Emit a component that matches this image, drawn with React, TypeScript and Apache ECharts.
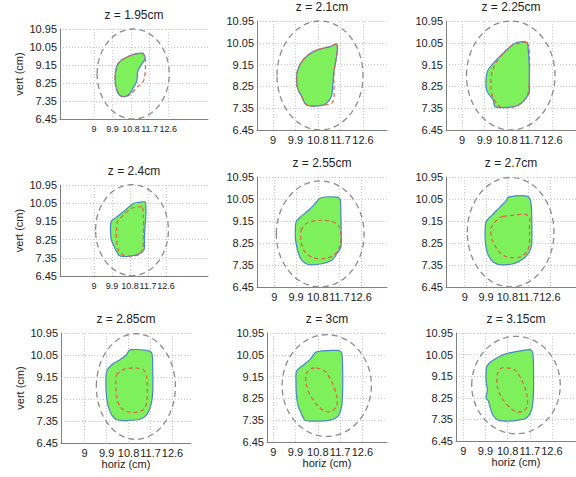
import React, { useEffect, useRef } from "react";
import * as echarts from "echarts";

const titles = ["z = 1.95cm", "z = 2.1cm", "z = 2.25cm", "z = 2.4cm", "z = 2.55cm", "z = 2.7cm", "z = 2.85cm", "z = 3cm", "z = 3.15cm"];
const xTicks = [9, 9.9, 10.8, 11.7, 12.6];
const yTicks = [6.45, 7.35, 8.25, 9.15, 10.05, 10.95];
const xRanges = [[7.35, 14.53], [8.36, 13.56], [8.36, 13.56], [7.3, 14.7], [8.28, 13.67], [8.21, 13.7], [8.03, 13.36], [8.75, 13.59], [8.7, 13.58]];
const yRange = [6.45, 10.95];

// ellipse: [cx, cy, rx, ry]
const ellipses = [
  [10.9, 8.7, 1.75, 2.25], [10.88, 8.7, 1.72, 2.25], [10.95, 8.7, 1.77, 2.25],
  [10.9, 8.72, 1.82, 2.25], [10.9, 8.62, 1.82, 2.17], [10.94, 8.69, 1.83, 2.24],
  [11.1, 8.76, 1.62, 2.16], [11.16, 8.78, 1.8, 2.1], [11.14, 8.78, 1.8, 2.03],
];

const tumor1 = [[10.34, 9.4], [10.83, 9.65], [11.36, 9.73], [11.48, 9.48], [11.23, 9.07], [11.12, 8.82], [11.07, 8.32], [10.91, 8.03], [10.75, 7.73], [10.5, 7.57], [10.23, 7.65], [10.07, 8.03], [10.02, 8.48], [10.07, 8.98], [10.18, 9.23]];
const contour1 = [[10.34, 9.4], [10.83, 9.65], [11.36, 9.73], [11.49, 9.4], [11.49, 8.9], [11.43, 8.43], [11.3, 8.2], [11.07, 8.03], [10.8, 7.7], [10.5, 7.57], [10.23, 7.65], [10.07, 8.03], [10.02, 8.48], [10.07, 8.98], [10.18, 9.23]];

const tumor2 = [[11.55, 9.99], [11.28, 9.89], [10.75, 9.75], [10.41, 9.55], [10.15, 9.27], [9.97, 8.86], [9.95, 8.38], [10.01, 8.1], [10.15, 7.82], [10.28, 7.55], [10.48, 7.44], [11.01, 7.48], [11.21, 7.62], [11.35, 7.89], [11.39, 8.31], [11.44, 8.86], [11.52, 9.34], [11.57, 9.75]];
const contour2 = [[11.55, 9.99], [11.28, 9.89], [10.75, 9.75], [10.41, 9.55], [10.15, 9.27], [9.97, 8.86], [9.95, 8.38], [10.01, 8.1], [10.15, 7.82], [10.28, 7.55], [10.48, 7.44], [11.01, 7.48], [11.35, 7.55], [11.44, 7.82], [11.44, 8.24], [11.44, 8.86], [11.52, 9.34], [11.57, 9.75]];

const tumor3 = [[11.59, 10.07], [11.12, 10.03], [10.65, 9.62], [10.25, 9.2], [10.01, 8.86], [9.96, 8.24], [10.05, 7.96], [10.25, 7.69], [10.32, 7.41], [10.72, 7.38], [11.19, 7.44], [11.45, 7.62], [11.59, 7.82], [11.69, 7.96], [11.69, 8.38], [11.69, 9.06], [11.65, 9.75]];
const contour3 = [[11.59, 10.06], [11.05, 9.96], [10.65, 9.62], [10.39, 9.27], [10.2, 8.86], [10.16, 8.24], [10.23, 7.82], [10.39, 7.55], [10.59, 7.38], [11.19, 7.44], [11.59, 7.82], [11.69, 8.38], [11.69, 9.75]];

const tumor4 = [[11.55, 10.12], [11.22, 10.09], [10.97, 10.04], [10.47, 9.63], [10.05, 9.3], [9.85, 9.13], [9.85, 8.31], [9.97, 7.98], [10.13, 7.65], [10.3, 7.44], [10.88, 7.44], [11.3, 7.57], [11.5, 7.73], [11.52, 8.23], [11.55, 8.89], [11.6, 9.55], [11.58, 10.04]];
const contour4 = [[11.38, 9.88], [10.88, 9.8], [10.47, 9.46], [10.17, 9.13], [10.13, 8.8], [10.13, 8.23], [10.22, 7.73], [10.47, 7.48], [10.97, 7.44], [11.3, 7.53], [11.43, 7.82], [11.47, 8.39], [11.47, 9.38], [11.43, 9.85]];

const tumor5 = [[10.9, 10.09], [11.59, 10.13], [11.73, 10.02], [11.76, 9.31], [11.77, 8.63], [11.76, 8.08], [11.59, 7.81], [11.38, 7.54], [10.97, 7.4], [10.41, 7.37], [10.14, 7.54], [10.0, 7.81], [9.93, 8.08], [9.87, 8.49], [9.9, 9.11], [10.07, 9.31], [10.41, 9.58], [10.69, 9.86]];
const contour5 = [[10.11, 8.77], [10.34, 9.06], [10.83, 9.17], [11.31, 9.15], [11.66, 8.97], [11.76, 8.56], [11.7, 8.08], [11.45, 7.74], [11.03, 7.61], [10.62, 7.65], [10.27, 7.88], [10.11, 8.29]];

const tumor6 = [[10.84, 10.13], [11.62, 10.17], [11.78, 9.99], [11.83, 9.31], [11.83, 8.22], [11.73, 7.88], [11.47, 7.61], [11.05, 7.4], [10.49, 7.36], [10.21, 7.47], [10.0, 7.74], [9.9, 8.08], [9.86, 8.49], [9.9, 9.11], [10.14, 9.38], [10.49, 9.72], [10.77, 10.0]];
const contour6 = [[10.63, 9.34], [11.68, 9.38], [11.73, 8.77], [11.73, 8.22], [11.62, 7.88], [11.33, 7.67], [10.98, 7.65], [10.63, 7.74], [10.35, 8.02], [10.14, 8.43], [10.11, 8.84], [10.28, 9.11], [10.49, 9.29]];

const tumor7 = [[10.79, 10.2], [10.89, 10.27], [11.54, 10.24], [11.75, 10.13], [11.79, 9.58], [11.79, 8.49], [11.7, 7.94], [11.54, 7.6], [11.27, 7.42], [10.72, 7.37], [10.31, 7.4], [10.11, 7.6], [9.97, 7.94], [9.9, 8.29], [9.87, 8.9], [9.9, 9.38], [10.11, 9.65], [10.45, 9.86], [10.72, 10.06]];
const contour7 = [[10.31, 9.24], [10.58, 9.45], [10.99, 9.52], [11.4, 9.45], [11.54, 9.17], [11.57, 8.63], [11.54, 8.08], [11.4, 7.81], [11.06, 7.7], [10.72, 7.74], [10.45, 7.94], [10.31, 8.35], [10.28, 8.9]];

const tumor8 = [[10.75, 10.17], [11.62, 10.23], [11.76, 10.13], [11.8, 9.58], [11.8, 8.48], [11.76, 7.93], [11.62, 7.52], [11.29, 7.35], [10.75, 7.31], [10.28, 7.35], [10.15, 7.59], [10.01, 7.93], [9.94, 8.34], [9.92, 8.89], [9.94, 9.37], [10.15, 9.58], [10.48, 9.85]];
const contour8 = [[10.75, 9.51], [11.08, 9.37], [11.35, 8.96], [11.56, 8.34], [11.56, 7.93], [11.35, 7.72], [11.08, 7.72], [10.75, 8.0], [10.48, 8.41], [10.32, 8.89], [10.35, 9.3], [10.55, 9.48]];

const tumor9 = [[10.76, 10.09], [11.71, 10.26], [11.82, 10.12], [11.85, 9.56], [11.85, 8.46], [11.78, 7.77], [11.58, 7.42], [11.24, 7.32], [10.76, 7.28], [10.42, 7.32], [10.22, 7.49], [10.09, 7.84], [10.02, 8.11], [9.92, 8.25], [9.98, 8.6], [9.92, 8.94], [9.95, 9.56], [10.15, 9.77], [10.49, 9.98]];
const contour9 = [[10.76, 9.5], [11.1, 9.4], [11.37, 9.01], [11.58, 8.39], [11.6, 7.9], [11.44, 7.7], [11.17, 7.66], [10.9, 7.84], [10.56, 8.25], [10.38, 8.73], [10.38, 9.22], [10.52, 9.47]];

const tumors = [tumor1, tumor2, tumor3, tumor4, tumor5, tumor6, tumor7, tumor8, tumor9];
const contours = [contour1, contour2, contour3, contour4, contour5, contour6, contour7, contour8, contour9];

// layout: [left, top, width, height] of each panel box in px
const boxes = [
  [60, 29, 148, 90], [257, 21, 130, 109], [446, 21, 130, 109],
  [60, 185, 148, 91], [257, 177, 130, 110], [446, 177, 130, 110],
  [61, 333, 130, 110], [267, 333, 120, 109], [456, 333, 120, 108],
];

const FONT = "'Liberation Sans', Arial, sans-serif";

export default function App() {
  const ref = useRef<HTMLDivElement>(null);
  useEffect(() => {
    if (!ref.current) return;
    const chart = echarts.init(ref.current, null, { renderer: "svg" });
    const grid: any[] = [];
    const xAxis: any[] = [];
    const yAxis: any[] = [];
    const series: any[] = [];
    const graphic: any[] = [];
    boxes.forEach((b, i) => {
      const narrow = i === 0 || i === 3;
      grid.push({ left: b[0], top: b[1], width: b[2], height: b[3], containLabel: false });
      const gridLine = { show: true, lineStyle: { color: "#c8c8c8", type: [1, 2], width: 1 } };
      xAxis.push({
        type: "value", gridIndex: i, min: xRanges[i][0], max: xRanges[i][1],
        axisLine: { show: true, onZero: false, lineStyle: { color: "#808080", width: 1 } },
        axisTick: { show: false, customValues: xTicks },
        axisLabel: { customValues: xTicks, fontSize: narrow ? 9 : 11, color: "#222", fontFamily: FONT, margin: narrow ? 5 : 4, hideOverlap: false },
        splitLine: gridLine,
        name: i >= 6 ? "horiz (cm)" : "",
        nameLocation: "middle", nameGap: 15,
        nameTextStyle: { fontSize: 11, color: "#222", fontFamily: FONT },
      });
      yAxis.push({
        type: "value", gridIndex: i, min: yRange[0], max: yRange[1],
        axisLine: { show: true, onZero: false, lineStyle: { color: "#808080", width: 1 } },
        axisTick: { show: false, customValues: yTicks },
        axisLabel: { customValues: yTicks, fontSize: 11, color: "#222", fontFamily: FONT, margin: 3, hideOverlap: false },
        splitLine: gridLine,
        name: i % 3 === 0 ? "vert (cm)" : "",
        nameLocation: "middle", nameGap: 36,
        nameTextStyle: { fontSize: 11, color: "#222", fontFamily: FONT },
      });
      const e = ellipses[i];
      series.push({
        type: "custom", xAxisIndex: i, yAxisIndex: i, silent: true,
        data: [e],
        encode: { x: 0, y: 1 },
        renderItem: (params: any, api: any) => {
          const c = api.coord([e[0], e[1]]);
          const s = api.size([e[2], e[3]]);
          return {
            type: "ellipse",
            shape: { cx: c[0], cy: c[1], rx: s[0], ry: s[1] },
            style: { fill: "none", stroke: "#8c8c8c", lineWidth: 1.3, lineDash: [6, 4] },
          };
        },
      });
      const tumor = tumors[i];
      series.push({
        type: "custom", xAxisIndex: i, yAxisIndex: i, silent: true,
        data: tumor,
        encode: { x: 0, y: 1 },
        renderItem: (params: any, api: any) => {
          if (params.dataIndex !== 0) return null;
          const pts = tumor.map((p) => api.coord(p));
          return {
            type: "polygon",
            shape: { points: pts, smooth: 0.3 },
            style: { fill: "#7df05c", stroke: "#4a86c8", lineWidth: 1.2 },
          };
        },
      });
      const contour = contours[i];
      series.push({
        type: "custom", xAxisIndex: i, yAxisIndex: i, silent: true,
        data: contour,
        encode: { x: 0, y: 1 },
        renderItem: (params: any, api: any) => {
          if (params.dataIndex !== 0) return null;
          const pts = contour.map((p) => api.coord(p));
          return {
            type: "polygon",
            shape: { points: pts, smooth: 0.3 },
            style: { fill: "none", stroke: "#d8644a", lineWidth: 1.2, lineDash: [4, 3] },
          };
        },
      });
      graphic.push({
        type: "text", x: b[0] + b[2] / 2, y: b[1] - 14,
        style: { text: titles[i], align: "center", verticalAlign: "middle", fontSize: 12, fill: "#222", fontFamily: FONT },
      });
    });
    chart.setOption({
      animation: false,
      backgroundColor: "#ffffff",
      grid, xAxis, yAxis, series, graphic,
    });
    return () => chart.dispose();
  }, []);
  return <div ref={ref} style={{ position: "fixed", left: 0, top: 0, width: 576, height: 477 }} />;
}
